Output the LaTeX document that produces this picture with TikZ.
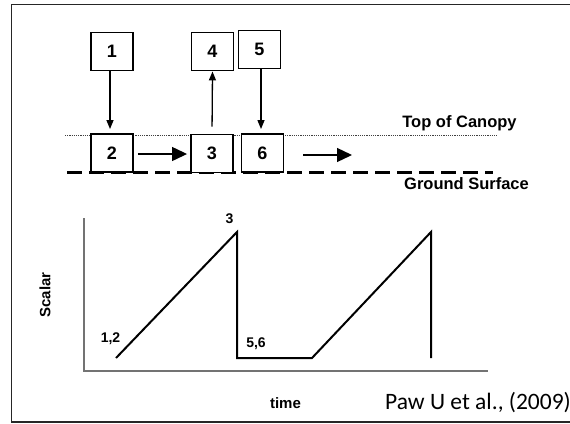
\documentclass[tikz,border=0pt]{standalone}
\usepackage{fontspec}
\setmainfont{Liberation Sans}
\newfontfamily\citefont{Carlito}
\usetikzlibrary{arrows.meta}

\tikzset{
  cellbox/.style={draw=black, line width=1.9pt, fill=white, minimum width=42pt,
    minimum height=38pt, inner sep=0pt,
    font=\bfseries\fontsize{18}{20}\selectfont},
  vflux/.style={line width=1.3pt, -{Triangle[length=9pt,width=7pt]}},
  hflux/.style={line width=1.3pt, -{Triangle[length=15pt,width=14pt]}},
  lbl/.style={font=\bfseries\fontsize{16.5}{18}\selectfont, inner sep=0pt},
  plotlbl/.style={font=\bfseries\fontsize{14}{16}\selectfont, inner sep=0pt},
  axis/.style={draw=black!55, line width=1.3pt},
  trace/.style={line width=2pt, line join=miter},
}

\begin{document}
\begin{tikzpicture}[x=1pt, y=-1pt]
\useasboundingbox (0,0) rectangle (570,423);
\fill[white] (0,0) rectangle (570,423);

% outer frame
\draw[line width=1.6pt, black!85] (11.5,4.5) rectangle (600,422);

% canopy top and ground surface
\draw[black!75, line width=1pt, dash pattern=on 1.2pt off 1pt] (65,135) -- (497,135);
\draw[black, line width=3pt, dash pattern=on 15pt off 7pt] (67,172) -- (493,172);

% boxes
\node[cellbox] (b1) at (112,51.5) {1};
\node[cellbox] (b4) at (212.5,51.5) {4};
\node[cellbox] (b5) at (259.5,49.5) {5};
\node[cellbox] (b2) at (112,153) {2};
\node[cellbox] (b3) at (212,153.5) {3};
\node[cellbox] (b6) at (262.5,153) {6};

% fluxes between boxes
\draw[vflux, shorten >=4pt] (b1.south -| 110,0) -- (b2.north -| 110,0);
\draw[vflux, shorten <=7pt] (b3.north) -- (b4.south);
\draw[vflux, shorten >=4pt] (b5.south -| 261,0) -- (b6.north -| 261,0);
\draw[hflux, shorten <=4pt, shorten >=3pt] (b2.east |- 0,154) -- (b3.west |- 0,154);
\coordinate (downstream) at (352,155);
\draw[hflux, shorten <=19pt] (b6.east |- downstream) -- (downstream);

% layer labels
\node[lbl] (canopy) at (459.5,123) {Top of Canopy};
\node[lbl] (ground) at (466.5,184) {Ground Surface};

% scalar time series
\coordinate (origin) at (84,371);
\coordinate (ytop) at (84,218);
\coordinate (xend) at (488,371);
\draw[axis] (ytop) -- (origin) -- (xend);

\coordinate (p0) at (116,358);
\coordinate (p1) at (237,232);
\coordinate (p2) at (237,358);
\coordinate (p3) at (312,358);
\coordinate (p4) at (431,232);
\coordinate (p5) at (431,358);
\draw[trace] (p0) -- (p1) -- (p2) -- (p3) -- (p4) -- (p5);

\node[plotlbl] (l3) at (229.5,219) {3};
\node[plotlbl] (l12) at (110.5,338.5) {1,2};
\node[plotlbl] (l56) at (256,344) {5,6};

\node[lbl, font=\bfseries\fontsize{15}{17}\selectfont] (xlab) at (285.5,403.5) {time};
\node[lbl, font=\bfseries\fontsize{15}{17}\selectfont, rotate=90] (ylab) at (45,295) {Scalar};

% reference
\node[anchor=base west, inner sep=0pt, font=\citefont\fontsize{23.5}{26}\selectfont] (ref) at (385,409) {Paw U et al., (2009)};
\end{tikzpicture}
\end{document}
